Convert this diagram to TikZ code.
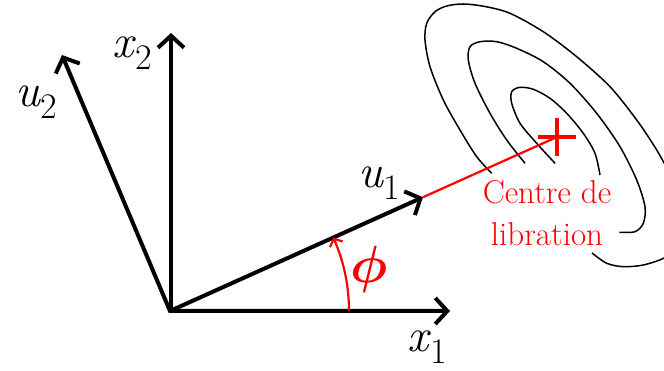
\documentclass[tikz,border=0pt]{standalone}
\usepackage{fontspec}
\usetikzlibrary{arrows.meta}
\newcommand\mylab[2]{\fontsize{47}{47}\selectfont\textit{#1}\raisebox{-0.24em}{\fontsize{36}{36}\selectfont #2}}
\begin{document}
\begin{tikzpicture}[x=1pt,y=-1pt,
  axis/.style={line width=4pt, line join=miter, arrows={-Straight Barb[length=12pt,width=26pt]}},
  axisboth/.style={line width=4pt, line join=miter, arrows={Straight Barb[length=12pt,width=26pt]-Straight Barb[length=12pt,width=26pt]}},
  redline/.style={red, line width=2.2pt},
  redarc/.style={red, line width=2.2pt, arrows={-Straight Barb[length=6pt,width=14pt]}},
  contour/.style={black, line width=1.5pt},
  lab/.style={anchor=base west, inner sep=0pt}]
\useasboundingbox (0,0) rectangle (664,371);
\clip (0,0) rectangle (664,371);
\coordinate (O) at (170,311);
\coordinate (X1) at (450,311);
\coordinate (X2) at (171,33);
\coordinate (U2) at (62,55);
\coordinate (U1) at (423,197.2);
\coordinate (C) at (557,137);
\coordinate (A0) at (349,311);
% contours
\draw[contour] plot[smooth] coordinates {(491.7,173.3) (476.7,156.7) (460,130) (443.3,100) (430,66.7) (425,40) (426.7,23.3) (435,11.7) (446.7,6) (463.3,4) (485,6.5) (510,13.3) (543.3,31.7) (576.7,56.7) (610,86.7) (636.7,120) (656.7,150) (670,175) (678,200) (681,225) (676,247) (664,258) (643.3,265) (623.3,266.7) (606.7,263.3) (592,253)};
\draw[contour] plot[smooth] coordinates {(525,163.3) (506.7,140) (490,113.3) (475,83.3) (468.3,60) (470,46.7) (480,41.7) (496.7,41.7) (516.7,48.3) (543.3,61.7) (570,83.3) (596.7,113.3) (620,146.7) (636.7,180) (645,206.7) (643.3,223.3) (635,231.7) (619.3,232.3)};
\draw[contour] plot[smooth] coordinates {(555,163.3) (536.7,143.3) (520,123.3) (511.7,103.3) (511.7,91.7) (520,87.3) (533.3,89.3) (550,98.3) (566.7,113.3) (583.3,133.3) (595,153.3) (600,175)};
% red line and cross
\draw[redline] (U1) -- (C);
\draw[red, line width=3.5pt] ([xshift=-19pt]C) -- ([xshift=19pt]C);
\draw[red, line width=3.5pt] ([yshift=-19pt]C) -- ([yshift=19pt]C);
% axes
\draw[axisboth] (U2) -- (O) -- (X1);
\draw[axis] (O -| X2) -- (X2);
\draw[axis] (O) -- (U1);
% angle arc
\draw[redarc] (A0) arc[start angle=0, end angle=-24.25, radius=179];
% labels
\node[lab] (lx2) at (112,58) {\mylab{x}{2}};
\node[lab] (lu2) at (15,107) {\mylab{u}{2}};
\node[lab] (lu1) at (358,188) {\mylab{u}{1}};
\node[lab] (lx1) at (407,352) {\mylab{x}{1}};
\node[red, anchor=base, inner sep=0pt] (lphi) at (369,283) {\scalebox{2.1}{\fontsize{24.88}{24.88}\selectfont\boldmath$\phi$}};
\node[red, align=center, inner sep=0pt, font=\fontsize{33}{42}\selectfont] (lc) at (547,213) {Centre de\\libration};
\end{tikzpicture}
\end{document}
